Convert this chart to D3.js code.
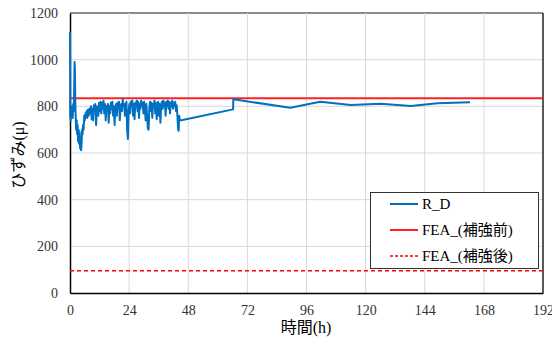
<!DOCTYPE html>
<html><head><meta charset="utf-8">
<script src="https://cdn.jsdelivr.net/npm/d3@7"></script>
<style>body{margin:0;background:#fff}svg{display:block}</style>
</head><body>
<svg id="c" width="552" height="338"></svg>
<script>
const xTicks = [0,24,48,72,96,120,144,168,192];
const yTicks = [0,200,400,600,800,1000,1200];
const seriesNames = ["R_D","FEA_(補強前)","FEA_(補強後)"];
const feaBefore = 835;
const feaAfter = 95;
const rdTime = [0,0.1,0.3,0.5,0.7,0.9,1.1,1.3,1.5,1.7,1.85,2.0,2.15,2.3,2.5,2.7,2.9,3.1,3.3,3.5,3.7,3.9,4.1,4.3,4.5,4.7,4.9,5.1,5.3,5.5,5.8,6.0,6.3,6.5,6.8,7.0,7.3,7.6,7.9,8.2,8.5,8.8,9.1,9.4,9.7,10.0,10.3,10.6,10.9,11.2,11.5,11.8,12.1,12.4,12.7,13.0,13.3,13.6,13.9,14.2,14.5,14.8,15.1,15.4,15.7,16.0,16.3,16.6,16.9,17.2,17.5,17.8,18.1,18.4,18.7,19.0,19.3,19.6,19.9,20.2,20.5,20.8,21.1,21.4,21.7,22.0,22.3,22.6,22.9,23.2,23.5,23.8,24.1,24.4,24.7,25.0,25.3,25.6,25.9,26.2,26.5,26.8,27.1,27.4,27.7,28.0,28.3,28.6,28.9,29.2,29.5,29.8,30.1,30.4,30.7,31.0,31.3,31.6,31.9,32.2,32.5,32.8,33.1,33.4,33.7,34.0,34.3,34.6,34.9,35.2,35.5,35.8,36.1,36.4,36.7,37.0,37.3,37.6,37.9,38.2,38.5,38.8,39.1,39.4,39.7,40.0,40.3,40.6,40.9,41.2,41.5,41.8,42.1,42.4,42.7,43.0,43.3,43.6,43.9,44.1,44.3,44.6,45.2,66.2,66.3,89.4,101.6,113.9,126.1,138.3,149.2,162.4];
const rdValue = [1120,760,740,800,760,790,750,810,780,870,990,960,820,760,700,740,680,720,650,700,640,690,620,660,612,640,700,680,720,700,760,740,770,760,780,750,785,760,790,770,800,745,790,740,805,780,810,720,790,800,760,815,780,820,770,815,790,825,770,810,740,800,780,810,730,800,770,815,790,820,760,800,720,790,810,760,815,790,820,740,790,810,780,830,800,810,760,805,820,700,660,780,810,770,820,800,825,760,810,745,815,800,825,780,820,750,810,790,825,800,815,770,820,790,740,810,760,705,700,790,820,780,815,750,810,800,825,770,815,745,805,820,760,810,730,800,820,790,825,800,815,760,820,800,825,790,820,770,815,800,825,790,815,800,820,780,805,760,700,695,760,740,740,787,830,794,820,806,811,801,813,817];

const svg = d3.select("#c");
const L = 70, R = 543, T = 13, B = 293;
const x = d3.scaleLinear().domain([0,192]).range([L,R]);
const y = d3.scaleLinear().domain([0,1200]).range([B,T]);
const SERIF = "Liberation Serif";
const JP = "Liberation Serif, Noto Sans CJK JP";

// grid
svg.append("g").selectAll("line").data(yTicks.slice(1)).join("line")
  .attr("x1",L).attr("x2",R).attr("y1",d=>y(d)).attr("y2",d=>y(d))
  .attr("stroke",d=>d===1200?"#8c8c8c":"#d9d9d9").attr("stroke-width",d=>d===1200?2:1);
svg.append("g").selectAll("line").data(xTicks.slice(1,-1)).join("line")
  .attr("y1",T).attr("y2",B).attr("x1",d=>x(d)).attr("x2",d=>x(d))
  .attr("stroke","#d9d9d9").attr("stroke-width",1);

// axes
const xa = svg.append("g").attr("transform",`translate(0,${B})`)
  .call(d3.axisBottom(x).tickValues(xTicks).tickFormat(d3.format("d")).tickSize(0).tickPadding(12));
xa.attr("font-family",SERIF).attr("font-size",14);
xa.select(".domain").attr("stroke","#000").attr("stroke-width",1.5);
xa.selectAll("text").attr("fill","#333");
const ya = svg.append("g").attr("transform",`translate(${L},0)`)
  .call(d3.axisLeft(y).tickValues(yTicks).tickFormat(d3.format("d")).tickSize(0).tickPadding(12));
ya.attr("font-family",SERIF).attr("font-size",14);
ya.select(".domain").attr("stroke","#000").attr("stroke-width",1.5);
ya.selectAll("text").attr("fill","#333");
svg.append("line").attr("x1",R).attr("x2",R).attr("y1",T).attr("y2",B).attr("stroke","#222").attr("stroke-width",1.5);

// reference lines
svg.append("line").attr("x1",L).attr("x2",R).attr("y1",y(feaBefore)).attr("y2",y(feaBefore))
  .attr("stroke","#ff2020").attr("stroke-width",2);
svg.append("line").attr("x1",L).attr("x2",R).attr("y1",y(feaAfter)).attr("y2",y(feaAfter))
  .attr("stroke","#ff0000").attr("stroke-width",1.5).attr("stroke-dasharray","4,3");

// series
const pts = rdTime.map((t,i)=>[t,rdValue[i]]);
svg.append("path").datum(pts)
  .attr("d",d3.line().x(d=>x(d[0])).y(d=>y(d[1])))
  .attr("fill","none").attr("stroke","#0070c0").attr("stroke-width",2).attr("stroke-linejoin","round");

// titles
svg.append("text").attr("x",306).attr("y",333).attr("text-anchor","middle")
  .attr("font-family",JP).attr("font-size",16).attr("fill","#000").text("時間(h)");
svg.append("text").attr("transform","translate(24,155) rotate(-90)").attr("text-anchor","middle")
  .attr("font-family",JP).attr("font-size",16).attr("fill","#000").text("ひずみ(μ)");

// legend
const lg = svg.append("g");
lg.append("rect").attr("x",370.5).attr("y",192.5).attr("width",168).attr("height",76)
  .attr("fill","#fff").attr("stroke","#333").attr("stroke-width",1);
const rows = [
  {c:"#0070c0",dash:null,w:2},
  {c:"#ff2020",dash:null,w:2},
  {c:"#ff0000",dash:"3,2",w:1.5}
];
rows.forEach((r,i)=>{
  const yy = 204 + i*26;
  lg.append("line").attr("x1",390).attr("x2",418).attr("y1",yy).attr("y2",yy)
    .attr("stroke",r.c).attr("stroke-width",r.w).attr("stroke-dasharray",r.dash);
  lg.append("text").attr("x",422).attr("y",yy+5).attr("font-family",JP).attr("font-size",15)
    .attr("fill","#000").text(seriesNames[i]);
});
</script>
</body></html>
